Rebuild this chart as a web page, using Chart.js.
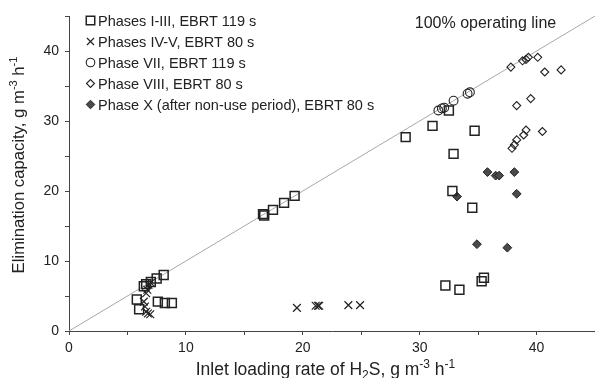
<!DOCTYPE html>
<html>
<head>
<meta charset="utf-8">
<script src="https://cdn.jsdelivr.net/npm/chart.js@4/dist/chart.umd.min.js"></script>
<style>
html,body{margin:0;padding:0;background:#fff;}
#wrap{width:595px;height:378px;}
</style>
</head>
<body>
<div id="wrap"><canvas id="c" width="595" height="378"></canvas></div>
<script>
// ---- Data ----
const phases1to3X = [5.8, 6.0, 6.4, 6.6, 7.0, 7.5, 8.1, 7.6, 8.2, 8.8,
  16.6, 16.7, 17.45, 18.4, 19.3, 28.8, 31.1, 32.5, 34.7, 32.9, 32.8, 34.5, 35.5, 32.2, 33.4, 35.3];
const phases1to3Y = [4.5, 3.1, 6.4, 6.7, 7.0, 7.5, 8.0, 4.2, 4.0, 4.0,
  16.7, 16.5, 17.3, 18.3, 19.3, 27.7, 29.3, 31.5, 28.6, 25.3, 20.0, 17.6, 7.6, 6.5, 5.9, 7.1];

const phases4to5X = [6.4, 6.5, 6.6, 6.75, 6.95, 6.6, 6.7, 6.8, 7.0, 19.5, 21.1, 21.3, 21.4, 23.9, 24.9];
const phases4to5Y = [4.2, 3.5, 2.75, 2.5, 2.4, 5.4, 5.9, 6.6, 6.9, 3.3, 3.6, 3.6, 3.6, 3.7, 3.7];

const phase7X = [31.6, 31.9, 32.1, 32.9, 34.1, 34.3];
const phase7Y = [31.5, 31.8, 31.9, 32.9, 33.9, 34.1];

const phase8X = [37.8, 38.8, 39.1, 39.3, 40.1, 40.7, 42.1, 38.3, 39.5, 40.5, 39.1, 38.9, 38.3, 38.1, 37.9];
const phase8Y = [37.7, 38.6, 38.8, 39.1, 39.1, 37.0, 37.3, 32.2, 33.2, 28.5, 28.7, 28.0, 27.3, 26.6, 26.1];

const phase10X = [35.8, 36.5, 36.8, 38.1, 38.3, 33.2, 34.9, 37.5];
const phase10Y = [22.7, 22.2, 22.2, 22.7, 19.6, 19.2, 12.4, 11.9];

const operatingLineX = [0, 45];
const operatingLineY = [0, 45];

const seriesLabels = [
  'Phases I-III, EBRT 119 s',
  'Phases IV-V, EBRT 80 s',
  'Phase VII, EBRT 119 s',
  'Phase VIII, EBRT 80 s',
  'Phase X (after non-use period), EBRT 80 s'
];
const xTickLabels = [0, 10, 20, 30, 40];
const yTickLabels = [0, 10, 20, 30, 40];
const lineLabel = '100% operating line';

// ---- helpers ----
const pts = (xs, ys) => xs.map((x, i) => ({x: x, y: ys[i]}));
const FONT = 'Arial, "Liberation Sans", sans-serif';
const INK = '#222';

const markerStyles = [
  {pointStyle: 'rect', radius: 6.3, fill: 'rgba(0,0,0,0)', stroke: INK, width: 1.5},
  {pointStyle: 'crossRot', radius: 5.5, fill: 'rgba(0,0,0,0)', stroke: INK, width: 1.2},
  {pointStyle: 'circle', radius: 4.4, fill: 'rgba(0,0,0,0)', stroke: INK, width: 1.1},
  {pointStyle: 'rectRot', radius: 4, fill: 'rgba(0,0,0,0)', stroke: INK, width: 1.1},
  {pointStyle: 'rectRot', radius: 4.4, fill: '#4a4a4a', stroke: INK, width: 1}
];
const legendRadius = [6, 5, 4.3, 4, 4.3];
const seriesData = [
  pts(phases1to3X, phases1to3Y),
  pts(phases4to5X, phases4to5Y),
  pts(phase7X, phase7Y),
  pts(phase8X, phase8Y),
  pts(phase10X, phase10Y)
];

const datasets = [{
  type: 'line',
  label: lineLabel,
  data: pts(operatingLineX, operatingLineY),
  borderColor: '#a8a8a8',
  borderWidth: 1,
  pointRadius: 0,
  fill: false,
  order: 10
}];
seriesData.forEach((d, i) => {
  const m = markerStyles[i];
  datasets.push({
    label: seriesLabels[i],
    data: d,
    pointStyle: m.pointStyle,
    pointRadius: m.radius,
    pointHoverRadius: m.radius,
    backgroundColor: m.fill,
    borderColor: m.stroke,
    pointBorderWidth: m.width,
    borderWidth: m.width,
    showLine: false,
    clip: false,
    order: 1
  });
});

function drawRuns(ctx, runs, x, y, align, base) {
  let total = 0;
  runs.forEach(r => {
    const size = r.s ? Math.round(base * 0.66) : base;
    ctx.font = size + 'px ' + FONT;
    r.w = ctx.measureText(r.t).width;
    r.size = size;
    total += r.w;
  });
  let cx = align === 'center' ? x - total / 2 : x;
  runs.forEach(r => {
    ctx.font = r.size + 'px ' + FONT;
    let dy = 0;
    if (r.s === 'sup') dy = -base * 0.4;
    if (r.s === 'sub') dy = base * 0.2;
    ctx.fillText(r.t, cx, y + dy);
    cx += r.w;
  });
}

const decorPlugin = {
  id: 'decor',
  afterDraw(chart) {
    const ctx = chart.ctx;
    ctx.save();
    ctx.fillStyle = INK;
    ctx.textBaseline = 'alphabetic';
    ctx.textAlign = 'left';
    // x axis title
    drawRuns(ctx, [
      {t: 'Inlet loading rate of H'}, {t: '2', s: 'sub'}, {t: 'S, g m'}, {t: '-3', s: 'sup'},
      {t: ' h'}, {t: '-1', s: 'sup'}
    ], 325.5, 375, 'center', 17.5);
    // y axis title
    ctx.save();
    ctx.translate(24, 165);
    ctx.rotate(-Math.PI / 2);
    drawRuns(ctx, [
      {t: 'Elimination capacity, g m'}, {t: '-3', s: 'sup'}, {t: ' h'}, {t: '-1', s: 'sup'}
    ], 0, 0, 'center', 16.7);
    ctx.restore();
    // operating line label
    ctx.font = '16px ' + FONT;
    ctx.textAlign = 'center';
    ctx.fillText(lineLabel, 485.5, 28);
    // legend
    ctx.textAlign = 'left';
    seriesLabels.forEach((lab, i) => {
      const yb = 26 + i * 21;
      const m = markerStyles[i];
      ctx.save();
      ctx.fillStyle = m.fill;
      ctx.strokeStyle = m.stroke;
      ctx.lineWidth = m.width;
      Chart.helpers.drawPoint(ctx, {
        pointStyle: m.pointStyle,
        radius: legendRadius[i],
        borderWidth: m.width,
        rotation: 0
      }, 90.5, yb - 5.5);
      ctx.restore();
      ctx.fillStyle = INK;
      ctx.font = '14.5px ' + FONT;
      ctx.fillText(lab, 98, yb);
    });
    ctx.restore();
  }
};

const axisCommon = {
  type: 'linear',
  min: 0,
  max: 45,
  grid: {
    display: true,
    drawOnChartArea: false,
    drawTicks: true,
    tickLength: 4,
    color: '#444',
    lineWidth: 1
  },
  border: {display: true, color: '#444', width: 1}
};

new Chart(document.getElementById('c'), {
  type: 'scatter',
  data: {datasets: datasets},
  options: {
    responsive: false,
    animation: false,
    devicePixelRatio: 1,
    layout: {autoPadding: false, padding: {top: 16, right: 0, left: 0, bottom: 0}},
    plugins: {legend: {display: false}, tooltip: {enabled: false}},
    scales: {
      x: Object.assign({}, axisCommon, {
        ticks: {
          stepSize: 5,
          autoSkip: false,
          maxRotation: 0,
          padding: 5,
          color: INK,
          font: {family: FONT, size: 14},
          callback: v => xTickLabels.includes(v) ? String(v) : ''
        },
        afterFit: s => { s.height = 47; s.paddingRight = 0; s.paddingLeft = 0; }
      }),
      y: Object.assign({}, axisCommon, {
        ticks: {
          stepSize: 5,
          autoSkip: false,
          padding: 6,
          color: INK,
          font: {family: FONT, size: 14},
          callback: v => yTickLabels.includes(v) ? String(v) : ''
        },
        afterFit: s => { s.width = 69; s.paddingTop = 0; s.paddingBottom = 0; }
      })
    }
  },
  plugins: [decorPlugin]
});
</script>
</body>
</html>
